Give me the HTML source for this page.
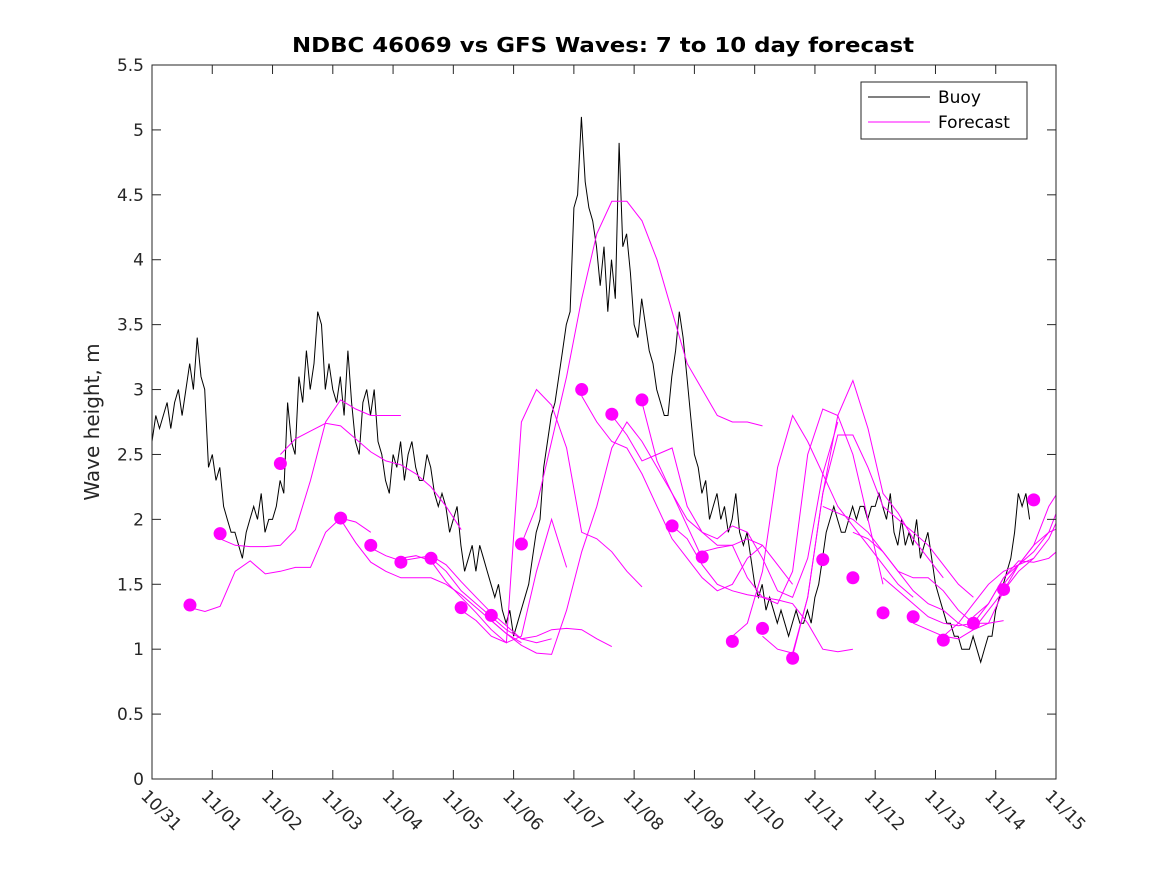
<!DOCTYPE html>
<html><head><meta charset="utf-8"><style>
body{margin:0;background:#fff;}
svg{display:block;font-family:"DejaVu Sans","Liberation Sans",sans-serif;}
</style></head><body>
<svg id="chart" width="1167" height="875">
<rect x="0" y="0" width="1167" height="875" fill="#fff"/>
<rect x="152" y="65" width="904" height="714" fill="#fff"/>
<g id="marks"></g>
<g id="axes"></g>
<text x="603" y="52" text-anchor="middle" font-size="20" font-weight="bold" fill="#000" textLength="622" lengthAdjust="spacingAndGlyphs">NDBC 46069 vs GFS Waves: 7 to 10 day forecast</text>
<text transform="translate(99,422) rotate(-90)" text-anchor="middle" font-size="20" fill="#262626">Wave height, m</text>
<g>
<rect x="861" y="82" width="166" height="57" fill="#fff" stroke="#262626" stroke-width="1"/>
<line x1="868" y1="97" x2="930" y2="97" stroke="#000" stroke-width="1"/>
<text x="938" y="103" font-size="17" fill="#000">Buoy</text>
<line x1="868" y1="122" x2="930" y2="122" stroke="#ff00ff" stroke-width="1"/>
<text x="938" y="128" font-size="17" fill="#000">Forecast</text>
</g>
</svg>
<script>
const xTickLabels=["10/31","11/01","11/02","11/03","11/04","11/05","11/06","11/07","11/08","11/09","11/10","11/11","11/12","11/13","11/14","11/15"];
const yTicks=[0,0.5,1,1.5,2,2.5,3,3.5,4,4.5,5,5.5];
const buoyStep=0.0625;
const buoyValues=[2.6,2.8,2.7,2.8,2.9,2.7,2.9,3.0,2.8,3.0,3.2,3.0,3.4,3.1,3.0,2.4,
2.5,2.3,2.4,2.1,2.0,1.9,1.9,1.8,1.7,1.9,2.0,2.1,2.0,2.2,1.9,2.0,
2.0,2.1,2.3,2.2,2.9,2.6,2.5,3.1,2.9,3.3,3.0,3.2,3.6,3.5,3.0,3.2,
3.0,2.9,3.1,2.8,3.3,2.9,2.6,2.5,2.9,3.0,2.8,3.0,2.6,2.5,2.3,2.2,
2.5,2.4,2.6,2.3,2.5,2.6,2.4,2.3,2.3,2.5,2.4,2.2,2.1,2.2,2.1,1.9,
2.0,2.1,1.8,1.6,1.7,1.8,1.6,1.8,1.7,1.6,1.5,1.4,1.5,1.3,1.2,1.3,
1.1,1.2,1.3,1.4,1.5,1.7,1.9,2.0,2.4,2.6,2.8,2.9,3.1,3.3,3.5,3.6,
4.4,4.5,5.1,4.6,4.4,4.3,4.1,3.8,4.1,3.6,4.0,3.7,4.9,4.1,4.2,3.9,
3.5,3.4,3.7,3.5,3.3,3.2,3.0,2.9,2.8,2.8,3.1,3.3,3.6,3.4,3.1,2.8,
2.5,2.4,2.2,2.3,2.0,2.1,2.2,2.0,2.1,1.9,2.0,2.2,1.9,1.8,1.9,1.7,
1.5,1.4,1.5,1.3,1.4,1.3,1.2,1.3,1.2,1.1,1.2,1.3,1.2,1.2,1.3,1.2,
1.4,1.5,1.7,1.9,2.0,2.1,2.0,1.9,1.9,2.0,2.1,2.0,2.1,2.1,2.0,2.1,
2.1,2.2,2.1,2.0,2.2,1.9,1.8,2.0,1.8,1.9,1.8,2.0,1.7,1.8,1.9,1.7,
1.5,1.4,1.3,1.2,1.2,1.1,1.1,1.0,1.0,1.0,1.1,1.0,0.9,1.0,1.1,1.1,
1.3,1.4,1.5,1.6,1.7,1.9,2.2,2.1,2.2,2.0];
const forecastStarts=[0.63,1.13,2.13,3.13,3.63,4.13,4.63,5.13,5.63,6.13,7.13,7.63,8.13,8.63,9.13,9.63,10.13,10.63,11.13,11.63,12.13,12.63,13.13,13.63,14.13];
const dotDays=[0.63,1.13,2.13,3.13,3.63,4.13,4.63,5.13,5.63,6.13,7.13,7.63,8.13,8.63,9.13,9.63,10.13,10.63,11.13,11.63,12.13,12.63,13.13,13.63,14.13,14.63];
const dotValues=[1.34,1.89,2.43,2.01,1.80,1.67,1.70,1.32,1.26,1.81,3.00,2.81,2.92,1.95,1.71,1.06,1.16,0.93,1.69,1.55,1.28,1.25,1.07,1.20,1.46,2.15];
const forecastStep=0.25;
const forecastRuns=[
[1.32,1.29,1.33,1.60,1.68,1.58,1.60,1.63,1.63,1.90,2.01,1.98,1.90],
[1.85,1.80,1.79,1.79,1.80,1.92,2.3,2.75,2.92,2.85,2.80,2.80,2.80],
[2.5,2.62,2.68,2.74,2.72,2.62,2.52,2.45,2.42,2.35,2.25,2.10,1.92],
[2.0,1.82,1.67,1.60,1.55,1.55,1.55,1.50,1.42,1.32,1.22,1.12,1.05],
[1.78,1.72,1.68,1.70,1.72,1.65,1.52,1.40,1.28,1.18,1.08,1.05,1.08],
[1.70,1.72,1.68,1.52,1.40,1.28,1.15,1.05,1.10,1.60,2.00,1.63],
[1.70,1.60,1.45,1.35,1.25,1.15,1.08,1.10,1.15,1.16,1.15,1.08,1.02],
[1.30,1.22,1.10,1.05,2.75,3.00,2.88,2.55,1.90,1.85,1.75,1.60,1.48],
[1.22,1.12,1.03,0.97,0.96,1.30,1.75,2.10,2.55,2.75,2.60,2.40,2.20,1.95,1.70],
[1.81,2.1,2.6,3.1,3.7,4.2,4.45,4.45,4.3,4.0,3.6,3.2,3.0,2.8,2.75,2.75,2.72],
[2.95,2.75,2.60,2.55,2.35,2.10,1.85,1.70,1.55,1.45,1.50,1.70,1.80],
[2.80,2.65,2.45,2.50,2.55,2.10,1.90,1.80,1.80,1.85,1.80,1.65,1.50],
[2.90,2.45,2.20,2.00,1.90,1.85,1.95,1.90,1.70,1.45,1.40,1.70,2.35,2.75],
[1.95,1.85,1.65,1.50,1.45,1.42,1.40,1.38,1.35,1.20,1.00,0.98,1.00],
[1.75,1.78,1.80,1.55,1.40,1.35,1.60,2.50,2.85,2.80,2.50,2.00,1.50],
[1.10,1.20,1.60,2.40,2.80,2.60,2.35,2.10,1.95,1.80,1.65,1.50,1.40],
[1.10,1.00,0.97,1.40,2.20,2.80,3.07,2.70,2.20,2.05,1.85,1.70,1.55],
[0.95,1.40,2.20,2.65,2.65,2.40,2.10,2.00,1.90,1.80,1.65,1.50,1.40],
[2.10,2.05,2.00,1.90,1.75,1.60,1.55,1.55,1.45,1.30,1.20,1.20,1.22],
[1.90,1.85,1.75,1.60,1.45,1.35,1.30,1.20,1.15,1.20,1.45,1.65,1.70],
[1.55,1.45,1.35,1.25,1.20,1.18,1.20,1.35,1.55,1.68,1.67,1.70,1.80],
[1.20,1.15,1.10,1.08,1.15,1.30,1.45,1.60,1.70,1.85,2.10,2.30,2.40],
[1.10,1.20,1.35,1.50,1.60,1.65,1.75,1.90,2.20,2.50,2.80,2.95],
[1.25,1.35,1.55,1.65,1.80,2.10,2.28,2.28,2.25],
[1.50,1.65,1.80,1.90,1.95]
];
const NS="http://www.w3.org/2000/svg";
const X0=152,X1=1056,Y0=779,Y1=65,DMAX=15,VMAX=5.5;
function xs(d){return X0+(X1-X0)*d/DMAX;}
function ys(v){return Y0-(Y0-Y1)*v/VMAX;}
const marks=document.getElementById('marks');
const axes=document.getElementById('axes');
function mk(tag,attrs,parent){const e=document.createElementNS(NS,tag);for(const k in attrs)e.setAttribute(k,attrs[k]);parent.appendChild(e);return e;}
const defs=mk('defs',{},marks);
const cp=mk('clipPath',{id:'pc'},defs);
mk('rect',{x:X0,y:Y1,width:X1-X0,height:Y0-Y1},cp);
const g=mk('g',{'clip-path':'url(#pc)'},marks);
let bp=buoyValues.map((v,i)=>(i?'L':'M')+xs(i*buoyStep).toFixed(1)+','+ys(v).toFixed(1)).join('');
const buoy=mk('path',{d:bp,fill:'none',stroke:'#000','stroke-width':1},g);


forecastRuns.forEach((run,r)=>{
 const d=run.map((v,i)=>(i?'L':'M')+xs(forecastStarts[r]+i*forecastStep).toFixed(1)+','+ys(v).toFixed(1)).join('');
 const p=mk('path',{d:d,fill:'none',stroke:'#ff00ff','stroke-width':1},g);
 
 
});
dotDays.forEach((d,i)=>{
 const c=mk('circle',{cx:xs(d),cy:ys(dotValues[i]),r:6.5,fill:'#ff00ff'},g);
 
 
});
const box=mk('rect',{x:X0,y:Y1,width:X1-X0,height:Y0-Y1,fill:'none',stroke:'#262626','stroke-width':1},axes);


yTicks.forEach(v=>{
 const y=ys(v);
 mk('line',{x1:X0,y1:y,x2:X0+9,y2:y,stroke:'#262626'},axes);
 mk('line',{x1:X1,y1:y,x2:X1-9,y2:y,stroke:'#262626'},axes);
 const t=mk('text',{x:X0-8,y:y+6,'text-anchor':'end','font-size':17,fill:'#262626'},axes);
 t.textContent=String(v);
 
 
});
xTickLabels.forEach((lab,i)=>{
 const x=xs(i);
 mk('line',{x1:x,y1:Y0,x2:x,y2:Y0-9,stroke:'#262626'},axes);
 mk('line',{x1:x,y1:Y1,x2:x,y2:Y1+9,stroke:'#262626'},axes);
 const t=mk('text',{transform:'translate('+(x-12)+','+(Y0+18)+') rotate(45)','font-size':17,fill:'#262626'},axes);
 t.textContent=lab;
 
 
});
</script>
</body></html>
